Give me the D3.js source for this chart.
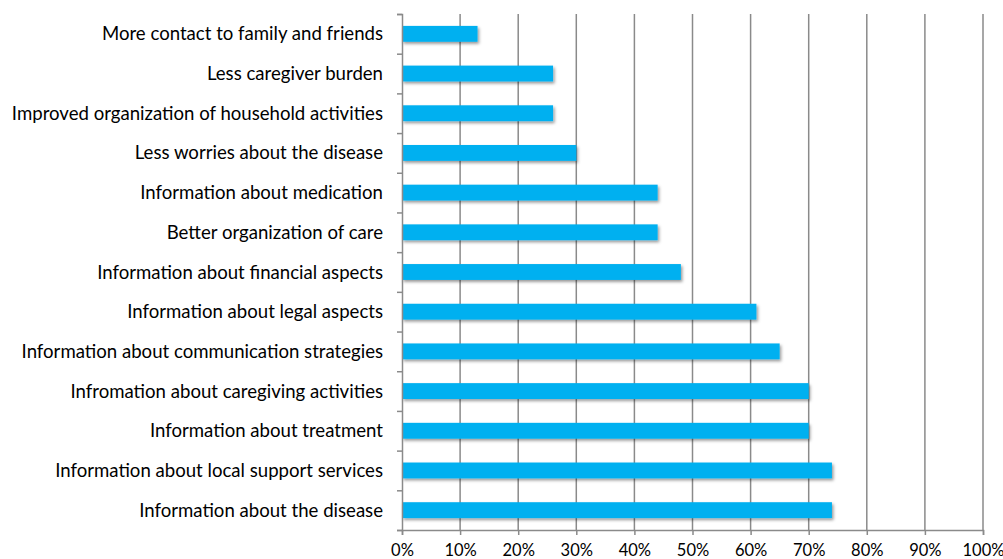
<!DOCTYPE html>
<html>
<head>
<meta charset="utf-8">
<script src="https://cdn.jsdelivr.net/npm/d3@7"></script>
<style>
  html, body { margin: 0; padding: 0; background: #fff; }
  svg { display: block; }
  text { font-family: "Lato", "Open Sans", sans-serif; fill: #000; }
</style>
</head>
<body>
<svg id="chart" width="1003" height="559"></svg>
<script>
// Reported benefits, top to bottom
const categories = [
  "More contact to family and friends",
  "Less caregiver burden",
  "Improved organization of household activities",
  "Less worries about the disease",
  "Information about medication",
  "Better organization of care",
  "Information about financial aspects",
  "Information about legal aspects",
  "Information about communication strategies",
  "Infromation about caregiving activities",
  "Information about treatment",
  "Information about local support services",
  "Information about the disease"
];
// Share of respondents (%)
const values = [13, 26, 26, 30, 44, 44, 48, 61, 65, 70, 70, 74, 74];
const xTicks = [0, 10, 20, 30, 40, 50, 60, 70, 80, 90, 100];

const svg = d3.select("#chart");
const plotLeft = 402, plotRight = 983, plotTop = 14, plotBottom = 530;

const x = d3.scaleLinear().domain([0, 100]).range([plotLeft, plotRight]);
const y = d3.scaleBand().domain(categories).range([plotTop, plotBottom]).paddingInner(0.6).paddingOuter(0.3);

// Soft drop shadow under bars
const defs = svg.append("defs");
const f = defs.append("filter").attr("id", "shadow")
  .attr("x", "-5%").attr("y", "-50%").attr("width", "120%").attr("height", "220%");
f.append("feDropShadow").attr("dx", 1.5).attr("dy", 2).attr("stdDeviation", 1.6)
  .attr("flood-color", "#000").attr("flood-opacity", 0.4);

// Vertical gridlines
svg.append("g").selectAll("line").data(xTicks.slice(1)).join("line")
  .attr("x1", d => x(d)).attr("x2", d => x(d))
  .attr("y1", plotTop).attr("y2", plotBottom)
  .attr("stroke", "#8a8a8a").attr("stroke-width", 1.5);

// Bars
svg.append("g").selectAll("rect").data(categories).join("rect")
  .attr("x", x(0))
  .attr("y", d => y(d))
  .attr("width", (d, i) => x(values[i]) - x(0))
  .attr("height", y.bandwidth())
  .attr("fill", "#00b0f0")
  .attr("filter", "url(#shadow)");

// Category axis: separators between bands
const yAxis = d3.axisLeft(d3.scaleLinear().domain([0, categories.length]).range([plotTop, plotBottom]))
  .ticks(categories.length).tickSize(5).tickFormat("");
const gy = svg.append("g").attr("transform", `translate(${plotLeft},0)`).call(yAxis);
gy.selectAll("line, path").attr("stroke", "#8a8a8a").attr("stroke-width", 1.5);
gy.selectAll(".tick text").remove();

svg.append("g").selectAll("text").data(categories).join("text")
  .attr("x", plotLeft - 19)
  .attr("y", d => y(d) + y.bandwidth() / 2)
  .attr("dy", "0.35em")
  .attr("text-anchor", "end")
  .attr("font-size", 18.6)
  .text(d => d);

// Percentage axis
const xAxis = d3.axisBottom(x).tickValues(xTicks).tickSize(5).tickFormat(d => d + "%");
const gx = svg.append("g").attr("transform", `translate(0,${plotBottom})`).call(xAxis);
gx.select(".domain").attr("stroke", "#8a8a8a").attr("stroke-width", 1.5);
gx.selectAll(".tick line").attr("stroke", "#8a8a8a").attr("stroke-width", 1.5);
gx.selectAll(".tick text").attr("font-size", 16.5).attr("dy", "1.1em")
  .style("font-family", "Lato, 'Open Sans', sans-serif").attr("fill", "#000");
</script>
</body>
</html>
